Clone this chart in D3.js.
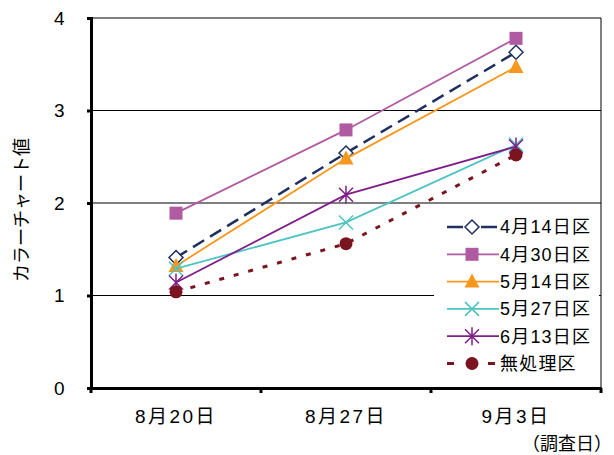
<!DOCTYPE html>
<html>
<head>
<meta charset="utf-8">
<script src="https://cdn.jsdelivr.net/npm/d3@7"></script>
<style>
  html, body { margin: 0; padding: 0; background: #fff; }
  svg text { font-family: "Liberation Sans", "Noto Sans CJK JP", sans-serif; fill: #000; }
</style>
</head>
<body>
<svg id="chart" width="614" height="455"></svg>
<script>
// Survey dates (x categories)
const dates = ["8月20日", "8月27日", "9月3日"];
const yTicks = [0, 1, 2, 3, 4];

// Colour-chart values per treatment plot
const seriesNames = ["4月14日区", "4月30日区", "5月14日区", "5月27日区", "6月13日区", "無処理区"];
const v0414 = [1.41, 2.54, 3.63];
const v0430 = [1.89, 2.79, 3.78];
const v0514 = [1.32, 2.48, 3.47];
const v0527 = [1.29, 1.79, 2.63];
const v0613 = [1.14, 2.09, 2.61];
const vNone = [1.04, 1.56, 2.52];

const styles = [
  { color: "#1F3060", dash: "13,7", width: 2.5, marker: "diamond" },
  { color: "#B05AA2", dash: null, width: 1.8, marker: "square" },
  { color: "#F7971E", dash: null, width: 1.8, marker: "triangle" },
  { color: "#4DC4C4", dash: null, width: 1.8, marker: "x" },
  { color: "#7E1E88", dash: null, width: 1.8, marker: "star" },
  { color: "#7A1520", dash: "5,10", width: 3, marker: "circle" }
];
const seriesValues = [v0414, v0430, v0514, v0527, v0613, vNone];

const svg = d3.select("#chart");
const plotL = 91, plotR = 601, plotT = 18, plotB = 388;

const x = d3.scaleBand().domain(dates).range([plotL, plotR]).paddingInner(0).paddingOuter(0);
const y = d3.scaleLinear().domain([0, 4]).range([plotB, plotT]);
const cx = d => x(d) + x.bandwidth() / 2;

// Horizontal gridlines and plot frame
svg.append("g").selectAll("line").data(yTicks.filter(t => t > 0)).join("line")
  .attr("x1", plotL).attr("x2", plotR)
  .attr("y1", d => y(d)).attr("y2", d => y(d))
  .attr("stroke", "#000").attr("stroke-width", 1);
svg.append("line").attr("x1", plotR).attr("x2", plotR).attr("y1", plotT).attr("y2", plotB)
  .attr("stroke", "#000").attr("stroke-width", 1);

// Legend background hides the gridline behind it
svg.append("rect").attr("x", 434).attr("y", 210).attr("width", 165).attr("height", 176).attr("fill", "#fff");

function drawMarker(g, type, px, py, color) {
  if (type === "diamond") {
    g.append("path").attr("d", `M${px},${py-7}L${px+7},${py}L${px},${py+7}L${px-7},${py}Z`)
      .attr("fill", "#fff").attr("stroke", color).attr("stroke-width", 1.5);
  } else if (type === "square") {
    g.append("rect").attr("x", px - 6.5).attr("y", py - 6.5).attr("width", 13).attr("height", 13).attr("fill", color);
  } else if (type === "triangle") {
    g.append("path").attr("d", `M${px},${py-8}L${px+7.5},${py+6}L${px-7.5},${py+6}Z`).attr("fill", color);
  } else if (type === "x") {
    g.append("path").attr("d", `M${px-7},${py-7}L${px+7},${py+7}M${px-7},${py+7}L${px+7},${py-7}`)
      .attr("stroke", color).attr("stroke-width", 1.5);
  } else if (type === "star") {
    g.append("path").attr("d", `M${px-7},${py-7}L${px+7},${py+7}M${px-7},${py+7}L${px+7},${py-7}M${px},${py-9}L${px},${py+9}`)
      .attr("stroke", color).attr("stroke-width", 1.5);
  } else if (type === "circle") {
    g.append("circle").attr("cx", px).attr("cy", py).attr("r", 6.5).attr("fill", color);
  }
}

const line = d3.line().x(d => cx(d.date)).y(d => y(d.value));

// Series lines and markers
seriesValues.forEach((vals, i) => {
  const st = styles[i];
  const pts = vals.map((v, j) => ({ date: dates[j], value: v }));
  const g = svg.append("g");
  g.append("path").datum(pts).attr("d", line).attr("fill", "none")
    .attr("stroke", st.color).attr("stroke-width", st.width)
    .attr("stroke-dasharray", st.dash);
  pts.forEach(p => drawMarker(g, st.marker, cx(p.date), y(p.value), st.color));
});

// Legend
const legY0 = 227, legStep = 27.3;
seriesNames.forEach((name, i) => {
  const st = styles[i];
  const ly = legY0 + i * legStep;
  const g = svg.append("g");
  if (i === 0) {
    g.append("line").attr("x1", 447).attr("x2", 463).attr("y1", ly).attr("y2", ly).attr("stroke", st.color).attr("stroke-width", 2.5);
    g.append("line").attr("x1", 481).attr("x2", 497).attr("y1", ly).attr("y2", ly).attr("stroke", st.color).attr("stroke-width", 2.5);
  } else if (i === 5) {
    g.append("line").attr("x1", 447).attr("x2", 454).attr("y1", ly).attr("y2", ly).attr("stroke", st.color).attr("stroke-width", 3);
    g.append("line").attr("x1", 488).attr("x2", 495).attr("y1", ly).attr("y2", ly).attr("stroke", st.color).attr("stroke-width", 3);
  } else {
    g.append("line").attr("x1", 447).attr("x2", 499).attr("y1", ly).attr("y2", ly).attr("stroke", st.color).attr("stroke-width", st.width);
  }
  drawMarker(g, st.marker, 472, ly, st.color);
  g.append("text").attr("x", 500).attr("y", ly).attr("dy", "0.36em")
    .attr("font-size", 18).attr("letter-spacing", 1.2).text(name);
});

// Y axis
const yAxis = svg.append("g").attr("transform", `translate(${plotL},0)`)
  .call(d3.axisLeft(y).tickValues(yTicks).tickSize(4).tickPadding(22).tickFormat(d3.format("d")));
yAxis.select(".domain").attr("stroke", "#000").attr("stroke-width", 3);
yAxis.selectAll(".tick line").attr("stroke", "#000").attr("stroke-width", 3);
yAxis.selectAll(".tick text").attr("font-size", 19).attr("text-anchor", "middle").attr("dx", "-0.3em");

// X axis
const xAxis = svg.append("g").attr("transform", `translate(0,${plotB})`)
  .call(d3.axisBottom(x).tickSize(0).tickPadding(22));
xAxis.select(".domain").attr("stroke", "#000").attr("stroke-width", 3);
xAxis.selectAll(".tick text").attr("font-size", 19).attr("letter-spacing", 2.5);
// Boundary ticks between categories
const bounds = [plotL, ...dates.map(d => x(d) + x.bandwidth())];
svg.append("g").selectAll("line").data(bounds).join("line")
  .attr("x1", d => d).attr("x2", d => d).attr("y1", plotB).attr("y2", plotB + 5)
  .attr("stroke", "#000").attr("stroke-width", 3);

// Axis titles
svg.append("text").attr("transform", "translate(22,210) rotate(-90)")
  .attr("text-anchor", "middle").attr("dy", "0.35em").attr("font-size", 18).text("カラーチャート値");
svg.append("text").attr("x", 612).attr("y", 444).attr("dy", "0.35em")
  .attr("text-anchor", "end").attr("font-size", 18).text("（調査日）");
</script>
</body>
</html>
